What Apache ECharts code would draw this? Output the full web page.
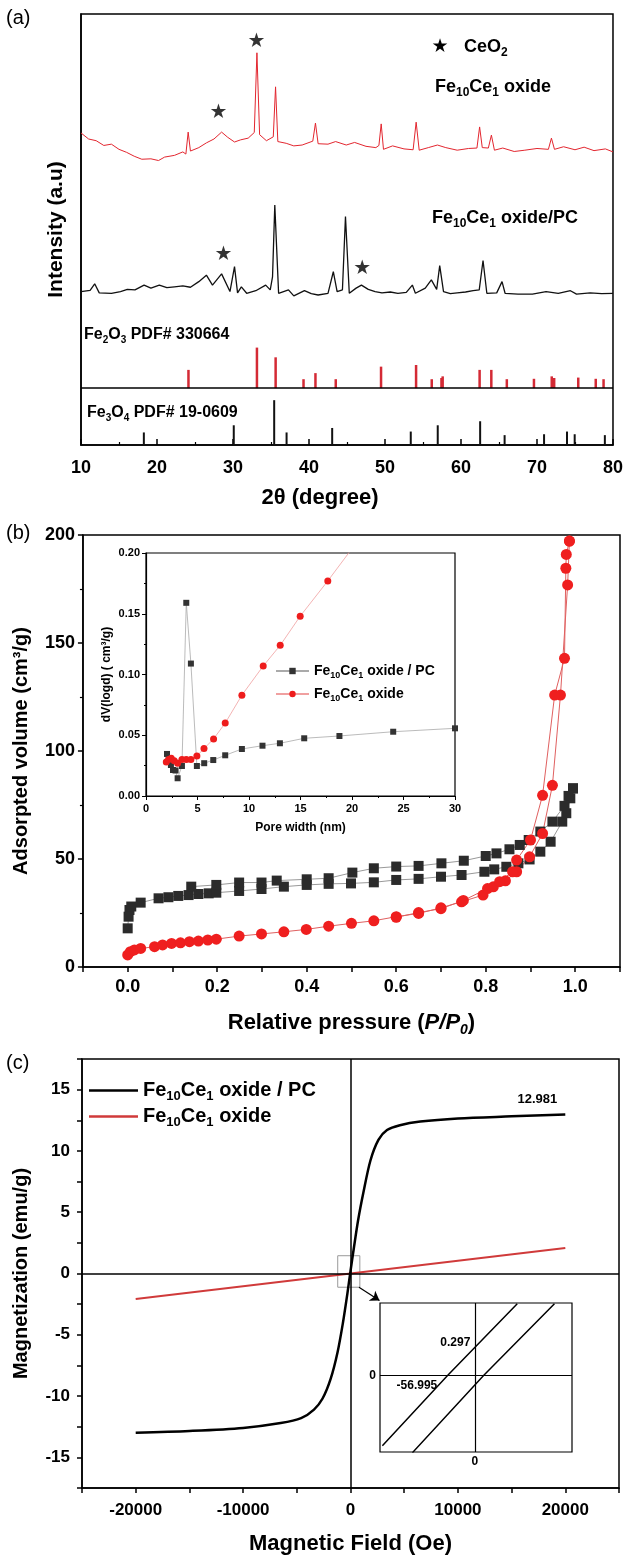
<!DOCTYPE html>
<html lang="en">
<head>
<meta charset="UTF-8">
<title>Fe10Ce1 oxide / PC</title>
<style>
  body { margin: 0; background: #fff; }
  #main { width: 626px; height: 1558px; }
</style>
</head>
<body>
<div id="main"></div>
<script src="https://cdn.jsdelivr.net/npm/echarts@6/dist/echarts.min.js"></script>
<script>
  const FONT = '"Liberation Sans", Arial, sans-serif';

  // (a) XRD patterns, [2theta, intensity a.u.]
  const xrdOxide = [[10.0,72.4],[11.0,71.0],[12.0,70.6],[13.0,69.5],[14.0,69.8],[15.0,68.6],[16.0,67.9],[17.0,67.0],[18.0,66.3],[19.2,66.4],[20.2,66.0],[21.0,66.8],[22.3,67.2],[23.4,68.0],[23.8,67.5],[24.1,72.6],[24.4,68.2],[25.5,69.0],[26.5,70.1],[27.5,71.0],[28.5,72.6],[29.3,71.4],[30.2,70.3],[31.0,70.8],[32.0,71.2],[32.8,72.5],[33.15,91.0],[33.5,72.0],[34.4,70.6],[35.3,71.5],[35.6,83.1],[35.9,70.4],[37.0,70.0],[38.0,69.4],[39.1,69.6],[40.5,70.5],[40.85,74.7],[41.2,69.9],[42.5,69.8],[43.5,70.4],[44.9,69.6],[46.0,70.2],[47.5,69.3],[48.8,69.0],[49.2,69.5],[49.5,74.5],[49.8,68.6],[51.0,69.4],[52.5,68.7],[53.7,68.5],[54.1,74.9],[54.5,68.4],[55.7,69.0],[56.9,69.6],[58.0,69.0],[59.5,68.4],[61.0,68.8],[62.1,68.9],[62.45,73.8],[62.8,69.0],[63.6,68.9],[64.0,71.9],[64.4,68.4],[65.5,68.9],[67.0,68.1],[68.4,68.4],[70.0,68.8],[71.5,68.6],[71.9,71.2],[72.3,68.6],[73.5,69.2],[75.0,68.5],[76.2,69.1],[77.5,68.3],[79.0,68.7],[80.0,68.0]];
  const xrdPc = [[10.0,35.6],[11.2,35.9],[11.8,37.4],[12.4,35.3],[14.0,35.2],[15.2,35.6],[16.1,36.1],[17.1,36.0],[18.3,37.1],[19.2,36.4],[20.3,37.1],[21.3,36.5],[22.3,36.7],[23.4,36.9],[24.4,36.6],[25.5,37.9],[26.5,39.4],[27.3,37.1],[28.5,39.7],[29.6,35.6],[30.2,41.4],[30.6,35.3],[31.1,36.7],[31.8,35.2],[33.0,35.8],[34.3,37.1],[34.9,36.0],[35.2,39.0],[35.5,55.7],[36.0,35.2],[37.3,36.0],[38.0,34.6],[39.4,35.8],[40.3,35.1],[41.2,34.8],[42.5,35.2],[43.2,40.2],[43.7,35.6],[44.4,36.0],[44.8,53.0],[45.3,35.2],[46.2,36.4],[46.9,37.1],[47.8,36.1],[48.7,35.6],[49.6,35.3],[50.7,35.5],[51.7,35.2],[52.8,35.4],[53.6,37.1],[54.0,35.2],[55.3,36.4],[56.1,38.3],[56.8,36.1],[57.2,41.6],[57.7,35.6],[58.6,35.1],[59.5,35.3],[60.6,35.5],[61.6,35.8],[62.4,36.0],[62.9,42.8],[63.4,35.2],[64.7,35.3],[65.4,37.9],[65.8,35.2],[67.5,35.0],[69.4,35.0],[71.2,35.6],[72.8,35.2],[74.4,35.8],[75.2,35.0],[77.0,35.3],[78.5,35.1],[80.0,35.2]];
  const fe2o3Pos = [24.14, 33.15, 35.61, 39.28, 40.85, 43.52, 49.48, 54.09, 56.15, 57.43, 57.59, 62.45, 63.99, 66.03, 69.6, 71.94, 72.26, 75.43, 77.73, 78.76];
  const fe2o3Rel = [45, 100, 76, 22, 37, 22, 53, 57, 22, 25, 29, 45, 45, 22, 23, 29, 25, 26, 23, 22];
  const fe3o4Pos = [18.27, 30.10, 35.42, 37.05, 43.05, 53.39, 56.94, 62.52, 65.74, 70.93, 73.95, 74.96, 78.93];
  const fe3o4Rel = [28, 44, 100, 28, 38, 30, 44, 53, 22, 24, 30, 24, 22];
  const ceo2Stars = [[33.1, 93.5], [28.1, 77.0], [28.75, 44.1], [47.0, 40.8]];

  // (b) N2 isotherms, [P/P0, cm3/g]
  const pcAds = [[0.000,17.9],[0.002,23.3],[0.004,26.4],[0.008,28.0],[0.029,29.8],[0.069,31.8],[0.091,32.3],[0.113,32.9],[0.136,33.3],[0.158,33.8],[0.181,34.1],[0.198,34.4],[0.249,35.2],[0.299,36.1],[0.349,37.2],[0.400,38.0],[0.449,38.5],[0.499,38.7],[0.550,39.2],[0.600,40.3],[0.650,40.8],[0.700,41.8],[0.746,42.6],[0.797,44.1],[0.819,45.2],[0.846,46.4],[0.873,48.0],[0.898,49.8],[0.922,53.4],[0.945,58.0],[0.971,67.3],[0.980,71.2],[0.989,78.1],[0.995,82.7]];
  const pcDes = [[0.995,82.7],[0.985,79.2],[0.976,74.6],[0.949,67.3],[0.922,62.7],[0.896,58.8],[0.876,56.5],[0.853,54.5],[0.824,52.6],[0.800,51.4],[0.751,49.2],[0.701,48.0],[0.650,46.8],[0.600,46.5],[0.550,45.7],[0.502,43.7],[0.449,41.1],[0.400,40.6],[0.333,40.0],[0.299,39.1],[0.249,39.1],[0.198,38.0],[0.142,37.2]];
  const oxAds = [[0.000,5.6],[0.006,7.1],[0.015,7.9],[0.029,8.6],[0.060,9.4],[0.078,10.2],[0.098,10.9],[0.118,11.2],[0.138,11.7],[0.158,12.0],[0.179,12.5],[0.198,12.9],[0.249,14.3],[0.299,15.3],[0.349,16.3],[0.399,17.4],[0.449,18.9],[0.500,20.2],[0.550,21.4],[0.600,23.3],[0.650,24.8],[0.700,27.4],[0.746,30.2],[0.794,33.3],[0.817,37.1],[0.844,39.9],[0.869,44.1],[0.898,51.0],[0.927,61.8],[0.949,84.1],[0.967,125.9],[0.983,176.9],[0.987,197.2]];
  const oxDes = [[0.987,197.2],[0.980,191.0],[0.979,184.6],[0.976,142.9],[0.954,125.9],[0.927,79.5],[0.900,58.8],[0.869,49.5],[0.860,44.1],[0.831,39.5],[0.804,36.3],[0.750,30.8],[0.700,27.0],[0.650,25.2],[0.600,23.0]];

  // (b) inset, pore size distribution [nm, dV(logd)]
  const psdPc = [[2.04,0.0346],[2.2,0.0296],[2.42,0.0255],[2.62,0.0214],[2.87,0.021],[3.07,0.0146],[3.49,0.0247],[3.91,0.159],[4.36,0.109],[4.94,0.0247],[5.65,0.027],[6.53,0.0296],[7.69,0.0335],[9.31,0.0387],[11.31,0.0414],[13.0,0.0434],[15.36,0.0475],[18.78,0.0494],[24.0,0.0529],[30.0,0.0557]];
  const psdOx = [[1.97,0.028],[2.2,0.030],[2.45,0.031],[2.74,0.029],[3.07,0.027],[3.49,0.030],[3.91,0.030],[4.36,0.030],[4.94,0.033],[5.63,0.039],[6.56,0.047],[7.69,0.060],[9.31,0.083],[11.38,0.107],[13.03,0.124],[14.97,0.148],[17.65,0.177],[21.0,0.215]];

  // (c) magnetisation loops [Oe, emu/g]
  const mhPc = [[-20000,-13.0],[-15000,-12.85],[-10000,-12.6],[-6500,-12.2],[-4600,-11.8],[-3400,-11.1],[-2600,-10.2],[-1850,-8.6],[-1200,-6.4],[-700,-4.0],[-300,-1.7],[0,0.2],[300,2.0],[700,4.3],[1200,6.6],[1850,9.2],[2600,10.9],[3400,11.7],[4600,12.1],[6500,12.4],[10000,12.65],[15000,12.82],[20000,12.981]];
  const mhOx = [[-20000,-2.08],[20000,2.08]];
  const zoomBranchA = [[-195,-0.644],[-57,0],[89.5,0.653]];
  const zoomBranchB = [[-131.6,-0.706],[19,0],[168,0.653]];
  const msValue = 12.981, mrValue = 0.297, hcValue = -56.995;

  const FE2O3_BASE = 13.2, FE2O3_SCALE = 0.094, FE3O4_SCALE = 0.104;

  // rich text with subscripts
  function rich(F, lh) {
    lh = lh || Math.round(F * 1.4);
    const sf = Math.round(F * 0.65);
    return {
      b: { fontSize: F, fontWeight: 'bold', fontFamily: FONT, lineHeight: lh, color: '#000', fill: '#000' },
      s: { fontSize: sf, fontWeight: 'bold', fontFamily: FONT, lineHeight: sf, padding: [Math.round(F * 0.62), 0, 0, 0], color: '#000', fill: '#000' }
    };
  }
  const FECE = '{b|Fe}{s|10}{b|Ce}{s|1}';
  const legendText = {
    'BJH PC': FECE + '{b| oxide / PC}',
    'BJH oxide': FECE + '{b| oxide}',
    'MH PC': FECE + '{b| oxide / PC}',
    'MH oxide': FECE + '{b| oxide}'
  };

  function label(size, extra) {
    return Object.assign({ color: '#000', fontFamily: FONT, fontWeight: 'bold', fontSize: size }, extra || {});
  }
  const line15 = { show: true, onZero: false, lineStyle: { color: '#000', width: 1.5 } };
  const noSplit = { show: false };

  function sticks(name, data, color, width, extra) {
    return Object.assign({
      type: 'custom', name: name, xAxisIndex: 0, yAxisIndex: 0, data: data,
      encode: { x: 0, y: [1, 2] },
      renderItem: function (params, api) {
        const a = api.coord([api.value(0), api.value(1)]);
        const b = api.coord([api.value(0), api.value(2)]);
        return { type: 'line', shape: { x1: a[0], y1: a[1], x2: b[0], y2: b[1] }, style: { stroke: color, lineWidth: width } };
      }
    }, extra || {});
  }

  const chart = echarts.init(document.getElementById('main'), null, { renderer: 'canvas' });

  const option = {
    animation: false,
    backgroundColor: '#fff',
    title: [
      { text: '(a)', left: 6, top: 8, padding: 0, textStyle: { fontSize: 20, fontWeight: 'normal', fontFamily: FONT, color: '#000' } },
      { text: '(b)', left: 6, top: 523, padding: 0, textStyle: { fontSize: 20, fontWeight: 'normal', fontFamily: FONT, color: '#000' } },
      { text: '(c)', left: 6, top: 1053, padding: 0, textStyle: { fontSize: 20, fontWeight: 'normal', fontFamily: FONT, color: '#000' } }
    ],
    grid: [
      { left: 81, top: 14, width: 536, height: 431, show: true, borderColor: '#000', borderWidth: 1.5 },
      { left: 82, top: 535, width: 538, height: 432, show: true, borderColor: '#000', borderWidth: 1.5 },
      { left: 146, top: 553, width: 309, height: 243, show: true, borderColor: '#000', borderWidth: 1.2 },
      { left: 82, top: 1059, width: 537, height: 430, show: true, borderColor: '#000', borderWidth: 1.5 },
      { left: 380, top: 1303, width: 192, height: 149, show: true, borderColor: '#000', borderWidth: 1.2 }
    ],
    legend: [
      {
        data: ['BJH PC', 'BJH oxide'], orient: 'vertical', left: 275, top: 662, padding: 0,
        itemWidth: 33, itemHeight: 8, itemGap: 5,
        formatter: function (n) { return legendText[n]; },
        textStyle: { rich: rich(14) }
      },
      {
        data: ['MH PC', 'MH oxide'], orient: 'vertical', left: 89, top: 1078, padding: 0,
        icon: 'rect', itemWidth: 49, itemHeight: 2.5, itemGap: 1,
        formatter: function (n) { return legendText[n]; },
        textStyle: { rich: rich(20, 27) }
      }
    ],
    xAxis: [
      {
        gridIndex: 0, type: 'value', min: 10, max: 80, interval: 10,
        axisLine: line15, splitLine: noSplit,
        axisTick: { inside: true, length: 6, lineStyle: { color: '#000', width: 1.5 } },
        minorTick: { show: true, splitNumber: 2, length: 3, lineStyle: { color: '#000', width: 1.2 } },
        axisLabel: label(18, { margin: 14 }),
        name: '2θ (degree)', nameLocation: 'middle', nameGap: 40,
        nameTextStyle: label(22, { lineHeight: 26, padding: [0, 54, 0, 0] })
      },
      {
        gridIndex: 1, type: 'value', min: -0.1, max: 1.1, interval: 0.1,
        axisLine: line15, splitLine: noSplit,
        axisTick: { length: 5, lineStyle: { color: '#000', width: 1.5 } },
        axisLabel: label(18, {
          margin: 11,
          formatter: function (v) {
            const k = Math.round(v * 10);
            return (k >= 0 && k <= 10 && k % 2 === 0) ? (k / 10).toFixed(1) : '';
          }
        }),
        name: 'Relative pressure ({i|P/P}{si|0}{n|)}', nameLocation: 'middle', nameGap: 41,
        nameTextStyle: label(22, {
          lineHeight: 30,
          rich: {
            i: { fontSize: 22, fontWeight: 'bold', fontStyle: 'italic', fontFamily: FONT, lineHeight: 30, color: '#000' },
            si: { fontSize: 14, fontWeight: 'bold', fontStyle: 'italic', fontFamily: FONT, lineHeight: 14, padding: [14, 0, 0, 0], color: '#000' },
            n: { fontSize: 22, fontWeight: 'bold', fontFamily: FONT, lineHeight: 30, color: '#000' }
          }
        })
      },
      {
        gridIndex: 2, type: 'value', min: 0, max: 30, interval: 5,
        axisLine: { show: true, onZero: false, lineStyle: { color: '#000', width: 1.2 } }, splitLine: noSplit,
        axisTick: { length: 4, lineStyle: { color: '#000', width: 1 } },
        minorTick: { show: true, splitNumber: 2, length: 2, lineStyle: { color: '#000', width: 1 } },
        axisLabel: label(11, { margin: 7 }),
        name: 'Pore width (nm)', nameLocation: 'middle', nameGap: 24,
        nameTextStyle: label(12, { lineHeight: 16 })
      },
      {
        gridIndex: 3, type: 'value', min: -25000, max: 25000, interval: 5000,
        axisLine: line15, splitLine: noSplit,
        axisTick: { length: 5, lineStyle: { color: '#000', width: 1.5 } },
        axisLabel: label(17, {
          margin: 14,
          formatter: function (v) { return (v % 10000 === 0 && Math.abs(v) <= 20000) ? String(v) : ''; }
        }),
        name: 'Magnetic Field (Oe)', nameLocation: 'middle', nameGap: 43,
        nameTextStyle: label(22, { lineHeight: 26 })
      },
      {
        gridIndex: 4, type: 'value', min: -200, max: 205, interval: 100,
        axisLine: { show: false }, axisTick: { show: false }, splitLine: noSplit,
        axisLabel: label(12, { margin: 4, formatter: function (v) { return Math.abs(v) < 1e-9 ? '0' : ''; } })
      }
    ],
    yAxis: [
      {
        gridIndex: 0, type: 'value', min: 0, max: 100,
        axisLine: line15, axisTick: { show: false }, axisLabel: { show: false }, splitLine: noSplit,
        name: 'Intensity (a.u)', nameLocation: 'middle', nameGap: 12,
        nameTextStyle: label(21, { lineHeight: 26 })
      },
      {
        gridIndex: 1, type: 'value', min: 0, max: 200, interval: 50,
        axisLine: line15, splitLine: noSplit,
        axisTick: { length: 5, lineStyle: { color: '#000', width: 1.5 } },
        minorTick: { show: true, splitNumber: 2, length: 3, lineStyle: { color: '#000', width: 1.2 } },
        axisLabel: label(18, { margin: 8 }),
        name: 'Adsorpted volume (cm³/g)', nameLocation: 'middle', nameGap: 48,
        nameTextStyle: label(20, { lineHeight: 26 })
      },
      {
        gridIndex: 2, type: 'value', min: 0, max: 0.2, interval: 0.05,
        axisLine: { show: true, onZero: false, lineStyle: { color: '#000', width: 1.2 } }, splitLine: noSplit,
        axisTick: { length: 4, lineStyle: { color: '#000', width: 1 } },
        minorTick: { show: true, splitNumber: 2, length: 2, lineStyle: { color: '#000', width: 1 } },
        axisLabel: label(11, { margin: 6, formatter: function (v) { return v.toFixed(2); } }),
        name: 'dV(logd) ( cm³/g)', nameLocation: 'middle', nameGap: 29,
        nameTextStyle: label(12, { lineHeight: 16 })
      },
      {
        gridIndex: 3, type: 'value', min: -17.5, max: 17.5, interval: 2.5,
        axisLine: line15, splitLine: noSplit,
        axisTick: { length: 5, lineStyle: { color: '#000', width: 1.5 } },
        axisLabel: label(17, { margin: 12, formatter: function (v) { return v % 5 === 0 ? String(v) : ''; } }),
        name: 'Magnetization (emu/g)', nameLocation: 'middle', nameGap: 46,
        nameTextStyle: label(20, { lineHeight: 26 })
      },
      {
        gridIndex: 4, type: 'value', min: -0.7, max: 0.66, interval: 0.35,
        axisLine: { show: false }, axisTick: { show: false }, splitLine: noSplit,
        axisLabel: label(12, { margin: 4, formatter: function (v) { return Math.abs(v) < 1e-9 ? '0' : ''; } })
      }
    ],
    graphic: [
      { type: 'text', x: 440, y: 47, style: { text: '★', fontSize: 19, fontFamily: '"DejaVu Sans"', fill: '#000', align: 'center', verticalAlign: 'middle' } },
      { type: 'text', x: 464, y: 47, style: { text: '{b|CeO}{s|2}', rich: rich(18), fill: '#000', verticalAlign: 'middle' } },
      { type: 'text', x: 435, y: 87, style: { text: FECE + '{b| oxide}', rich: rich(18), fill: '#000', verticalAlign: 'middle' } },
      { type: 'text', x: 432, y: 218, style: { text: FECE + '{b| oxide/PC}', rich: rich(18), fill: '#000', verticalAlign: 'middle' } },
      { type: 'text', x: 84, y: 335, style: { text: '{b|Fe}{s|2}{b|O}{s|3}{b| PDF# 330664}', rich: rich(16), fill: '#000', verticalAlign: 'middle' } },
      { type: 'text', x: 87, y: 413, style: { text: '{b|Fe}{s|3}{b|O}{s|4}{b| PDF# 19-0609}', rich: rich(16), fill: '#000', verticalAlign: 'middle' } }
    ],
    series: [
      // (a)
      {
        type: 'line', name: 'XRD oxide', xAxisIndex: 0, yAxisIndex: 0, data: xrdOxide,
        showSymbol: false, lineStyle: { color: '#e3262f', width: 1 }, z: 3
      },
      {
        type: 'line', name: 'XRD PC', xAxisIndex: 0, yAxisIndex: 0, data: xrdPc,
        showSymbol: false, lineStyle: { color: '#111', width: 1.3 }, z: 3
      },
      sticks('Fe2O3', fe2o3Pos.map(function (p, i) { return [p, FE2O3_BASE, FE2O3_BASE + fe2o3Rel[i] * FE2O3_SCALE]; }), '#d42a35', 2.5, {
        markLine: {
          silent: true, symbol: 'none', label: { show: false },
          lineStyle: { color: '#000', width: 1.5, type: 'solid' },
          data: [{ yAxis: FE2O3_BASE }]
        }
      }),
      sticks('Fe3O4', fe3o4Pos.map(function (p, i) { return [p, 0, fe3o4Rel[i] * FE3O4_SCALE]; }), '#111', 2),
      {
        type: 'scatter', name: 'CeO2', xAxisIndex: 0, yAxisIndex: 0, data: ceo2Stars,
        symbolSize: 1, itemStyle: { color: 'rgba(0,0,0,0)' },
        label: { show: true, position: 'inside', formatter: '★', fontSize: 20, fontFamily: '"DejaVu Sans"', color: '#000' }
      },
      // (b) main
      {
        type: 'line', name: 'PC ads', xAxisIndex: 1, yAxisIndex: 1, data: pcAds,
        symbol: 'rect', symbolSize: 10, itemStyle: { color: '#2b2b2b' }, lineStyle: { color: '#999', width: 1 }
      },
      {
        type: 'line', name: 'PC des', xAxisIndex: 1, yAxisIndex: 1, data: pcDes,
        symbol: 'rect', symbolSize: 10, itemStyle: { color: '#2b2b2b' }, lineStyle: { color: '#999', width: 1 }
      },
      {
        type: 'line', name: 'oxide ads', xAxisIndex: 1, yAxisIndex: 1, data: oxAds,
        symbol: 'circle', symbolSize: 11, itemStyle: { color: '#ef1f1f' }, lineStyle: { color: '#e06060', width: 1 }
      },
      {
        type: 'line', name: 'oxide des', xAxisIndex: 1, yAxisIndex: 1, data: oxDes,
        symbol: 'circle', symbolSize: 11, itemStyle: { color: '#ef1f1f' }, lineStyle: { color: '#e06060', width: 1 }
      },
      // (b) inset
      {
        type: 'line', name: 'BJH PC', xAxisIndex: 2, yAxisIndex: 2, data: psdPc,
        symbol: 'rect', symbolSize: 6, itemStyle: { color: '#333' }, lineStyle: { color: '#aaa', width: 0.8 }
      },
      {
        type: 'line', name: 'BJH oxide', xAxisIndex: 2, yAxisIndex: 2, data: psdOx,
        symbol: 'circle', symbolSize: 7, itemStyle: { color: '#ee1c1c' }, lineStyle: { color: '#f0a0a0', width: 0.8 }
      },
      // (c) main
      {
        type: 'line', name: 'MH oxide', xAxisIndex: 3, yAxisIndex: 3, data: mhOx,
        showSymbol: false, symbol: 'none', itemStyle: { color: '#d03a3a' }, lineStyle: { color: '#d03a3a', width: 2 },
        markLine: {
          silent: true, symbol: 'none', label: { show: false },
          lineStyle: { color: '#000', width: 1.5, type: 'solid' },
          data: [{ xAxis: 0 }, { yAxis: 0 }]
        }
      },
      {
        type: 'line', name: 'MH PC', xAxisIndex: 3, yAxisIndex: 3, data: mhPc, smooth: 0.3,
        showSymbol: false, symbol: 'none', itemStyle: { color: '#000' }, lineStyle: { color: '#000', width: 2.5 }, z: 4,
        markArea: {
          silent: true,
          itemStyle: { color: 'rgba(0,0,0,0)', borderColor: '#999', borderWidth: 1 },
          data: [[{ coord: [-1190, 1.45] }, { coord: [870, -1.12] }]]
        },
        markLine: {
          silent: true, symbol: ['none', 'arrow'], symbolSize: 9, label: { show: false },
          lineStyle: { color: '#000', width: 1.2, type: 'solid' },
          data: [[{ coord: [790, -1.12] }, { coord: [2700, -2.21] }]]
        },
        markPoint: {
          silent: true, symbol: 'circle', symbolSize: 1, itemStyle: { color: 'rgba(0,0,0,0)' },
          label: label(13, { show: true, position: 'top', distance: 8, formatter: String(msValue) }),
          data: [{ coord: [17400, msValue] }]
        }
      },
      // (c) inset
      {
        type: 'line', name: 'zoom A', xAxisIndex: 4, yAxisIndex: 4, data: zoomBranchA,
        showSymbol: false, symbol: 'none', lineStyle: { color: '#000', width: 1.5 },
        markLine: {
          silent: true, symbol: 'none', label: { show: false },
          lineStyle: { color: '#000', width: 1.2, type: 'solid' },
          data: [{ xAxis: 0 }, { yAxis: 0 }]
        },
        markPoint: {
          silent: true, symbol: 'circle', symbolSize: 1, itemStyle: { color: 'rgba(0,0,0,0)' },
          data: [
            { coord: [0, mrValue], label: label(12, { show: true, position: 'left', distance: 4, formatter: mrValue.toFixed(3) }) },
            { coord: [hcValue, 0], label: label(12, { show: true, position: 'left', distance: 10, offset: [0, 10], formatter: hcValue.toFixed(3) }) }
          ]
        }
      },
      {
        type: 'line', name: 'zoom B', xAxisIndex: 4, yAxisIndex: 4, data: zoomBranchB,
        showSymbol: false, symbol: 'none', lineStyle: { color: '#000', width: 1.5 }
      }
    ]
  };

  chart.setOption(option);
</script>
</body>
</html>
